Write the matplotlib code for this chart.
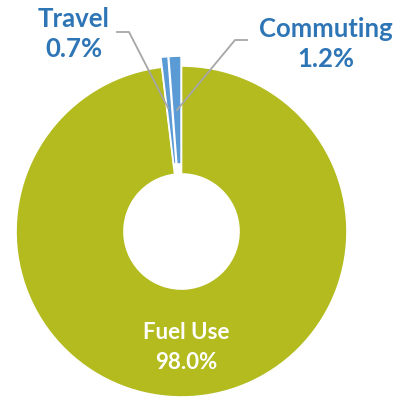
import matplotlib
matplotlib.use("Agg")
import matplotlib.pyplot as plt

categories = ["Fuel Use", "Travel", "Commuting"]
values = [98.0, 0.7, 1.2]
labels = ["98.0%", "0.7%", "1.2%"]

green = "#B3BB1E"
blue = "#5B9BD5"
label_blue = "#2E75B6"

W, H = 406, 400
fig = plt.figure(figsize=(W / 100, H / 100), dpi=100)
ax = fig.add_axes([0, 0, 1, 1])

cx, cy = 181.5, H - 231.5
R = 165.5
r_in = 57.5

ax.pie(values, colors=[green, blue, blue], startangle=90, counterclock=False,
       center=(cx, cy), radius=R, explode=[0, 10, 10],
       wedgeprops=dict(width=R - r_in, edgecolor="white", linewidth=1.2),
       frame=True)
ax.set_xlim(0, W)
ax.set_ylim(0, H)
ax.set_aspect("equal")
ax.axis("off")

font = "Lato"
# leader lines
ax.plot([117, 129, 168], [H - 32, H - 32, H - 108], color="#A6A6A6", lw=1.3, zorder=3)
ax.plot([247, 235, 177], [H - 40, H - 40, H - 110], color="#A6A6A6", lw=1.3, zorder=3)

def lab(x, y1, y2, name, pct, color, size):
    ax.text(x, H - y1, name, ha="center", va="baseline", color=color,
            fontsize=size, fontweight="bold", family=font)
    ax.text(x, H - y2, pct, ha="center", va="baseline", color=color,
            fontsize=size, fontweight="bold", family=font)

lab(74, 27, 57, categories[1], labels[1], label_blue, 18.5)
lab(325.5, 37, 67, categories[2], labels[2], label_blue, 18.5)
lab(186.5, 339, 369, categories[0], labels[0], "white", 16)

fig.savefig("out.png", dpi=100)
